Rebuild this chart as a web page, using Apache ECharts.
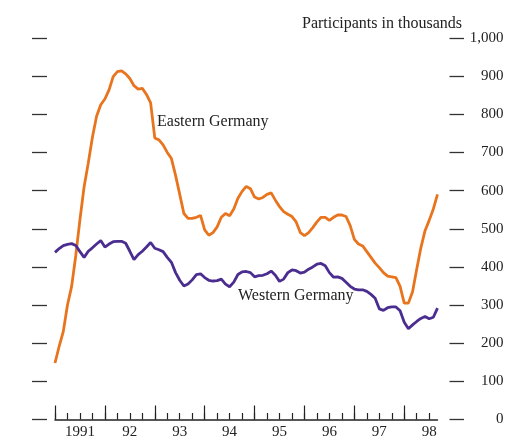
<!DOCTYPE html>
<html><head><meta charset="utf-8">
<script src="https://cdn.jsdelivr.net/npm/echarts@6/dist/echarts.min.js"></script>
<style>html,body{margin:0;padding:0;background:#fff}#c{width:509px;height:437px}</style>
</head><body><div id="c"></div>
<script>
// Monthly, Jan 1991 .. Sep 1998
const startYear = 1991;
const eastern = [148,192,231,300,349,430,524,610,672,740,795,825,
 840,864,899,912,914,906,894,875,866,868,852,830,
 738,733,720,700,684,640,590,540,527,527,530,535,
 497,483,490,505,530,540,534,552,580,598,611,605,
 583,578,582,590,594,575,558,545,538,532,518,490,
 482,490,503,518,530,530,522,530,536,536,532,508,
 472,460,455,440,425,410,398,385,376,374,372,349,
 305,305,335,394,450,495,522,552,590];
const western = [438,448,456,459,461,456,440,425,441,450,460,469,
 452,460,466,467,467,462,441,419,432,441,452,464,
 449,445,440,425,412,385,365,350,355,366,380,382,
 372,365,363,364,368,355,348,360,380,387,388,385,
 374,377,378,382,389,378,362,368,385,392,390,384,
 386,394,400,407,409,403,385,373,374,370,360,349,
 342,340,340,336,328,318,290,286,293,295,295,285,
 255,238,248,257,265,270,264,268,292];
const yearLabels = ['1991','92','93','94','95','96','97','98'];
const yTicks = [0,100,200,300,400,500,600,700,800,900,1000];
const seriesNames = ['Eastern Germany','Western Germany'];

const months = eastern.map((_, i) => {
  const y = startYear + Math.floor(i / 12), m = i % 12 + 1;
  return y + '-' + (m < 10 ? '0' : '') + m;
});

const FONT = 'Liberation Serif';
const chart = echarts.init(document.getElementById('c'), null, {renderer: 'canvas'});
const fmtNum = v => v >= 1000 ? Math.floor(v/1000) + ',' + String(v%1000).padStart(3,'0') : String(v);

chart.setOption({
  animation: false,
  backgroundColor: '#fff',
  title: {
    text: 'Participants in thousands',
    left: 302, top: 16, padding: 0,
    textStyle: {fontFamily: FONT, fontSize: 16, fontWeight: 'normal', color: '#222'}
  },
  grid: {left: 55, right: 71.5, top: 38, bottom: 17.5, containLabel: false, outerBoundsMode: 'none'},
  xAxis: [{
    type: 'category', data: months, boundaryGap: false,
    axisLine: {show: true, lineStyle: {color: '#222', width: 1.5}},
    axisTick: {show: true, inside: true, length: 14, interval: (i) => i % 12 === 0, lineStyle: {color: '#222', width: 1.2}},
    axisLabel: {show: false}, splitLine: {show: false}
  }, {
    type: 'category', data: months, boundaryGap: false, position: 'bottom',
    axisLine: {show: false},
    axisTick: {show: true, inside: true, length: 6.5, interval: (i) => i % 3 === 0, lineStyle: {color: '#222', width: 1.2}},
    axisLabel: {show: true, interval: (i) => i % 12 === 6, margin: 5.5,
      formatter: (v, i) => yearLabels[Math.floor(i / 12)] || '',
      fontFamily: FONT, fontSize: 15, color: '#222'},
    splitLine: {show: false}
  }],
  yAxis: [{
    type: 'value', min: yTicks[0], max: yTicks[yTicks.length-1], interval: 100, position: 'left', offset: 8,
    axisLine: {show: false},
    axisTick: {show: true, length: 15, lineStyle: {color: '#333', width: 1.3}},
    axisLabel: {show: false}, splitLine: {show: false}
  }, {
    type: 'value', min: yTicks[0], max: yTicks[yTicks.length-1], interval: 100, position: 'right', offset: 12,
    axisLine: {show: false},
    axisTick: {show: true, length: 14.5, lineStyle: {color: '#333', width: 1.3}},
    axisLabel: {show: true, align: 'right', margin: 54, formatter: fmtNum,
      fontFamily: FONT, fontSize: 15, color: '#222'},
    splitLine: {show: false}
  }],
  series: [{
    name: seriesNames[0], type: 'line', data: eastern, xAxisIndex: 0, yAxisIndex: 0,
    showSymbol: false, symbol: 'none', smooth: false,
    lineStyle: {color: '#E8741E', width: 2.8}, z: 3
  }, {
    name: seriesNames[1], type: 'line', data: western, xAxisIndex: 0, yAxisIndex: 0,
    showSymbol: false, symbol: 'none', smooth: false,
    lineStyle: {color: '#4A2D8F', width: 2.8}, z: 4
  }],
  graphic: [{
    type: 'text', left: 157, top: 114,
    style: {text: seriesNames[0], font: '16px "Liberation Serif"', fill: '#222'}
  }, {
    type: 'text', left: 238, top: 288,
    style: {text: seriesNames[1], font: '16px "Liberation Serif"', fill: '#222'}
  }]
});
</script></body></html>
